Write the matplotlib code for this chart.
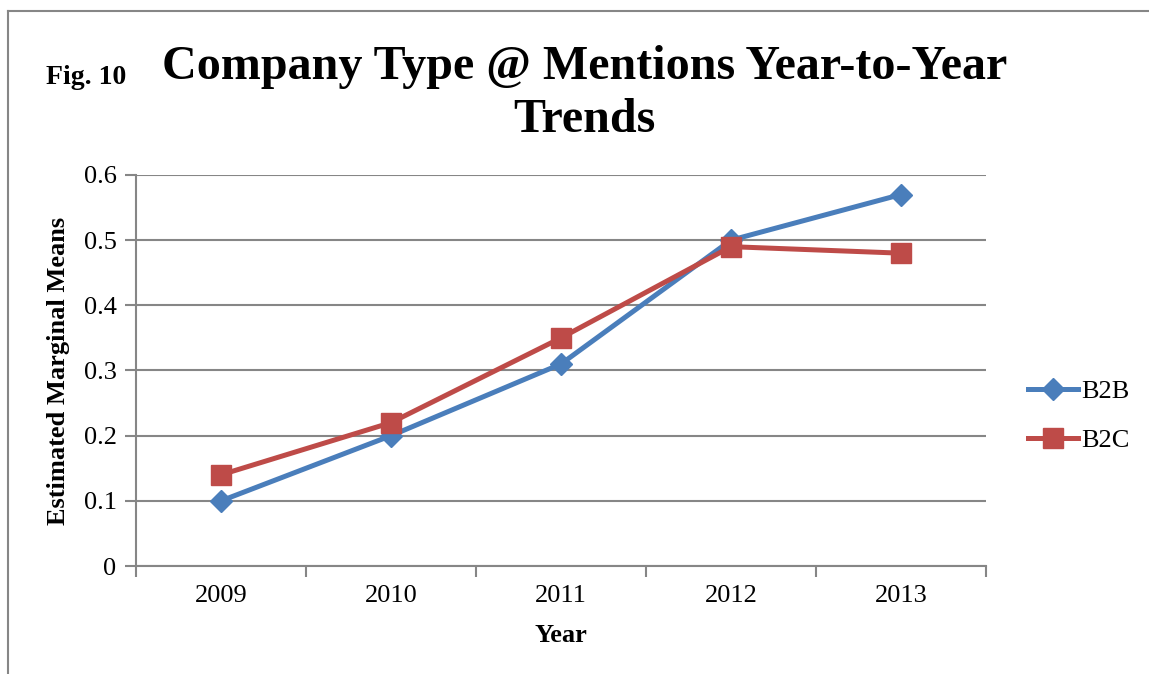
import matplotlib.pyplot as plt
from matplotlib.lines import Line2D

# Chart data
years = ["2009", "2010", "2011", "2012", "2013"]
b2b = [0.10, 0.20, 0.31, 0.50, 0.57]
b2c = [0.14, 0.22, 0.35, 0.49, 0.48]
y_ticks = [0, 0.1, 0.2, 0.3, 0.4, 0.5, 0.6]

blue = "#4A7EBB"
red = "#BE4B48"
grid_gray = "#868686"

plt.rcParams["font.family"] = ["Liberation Serif", "DejaVu Serif"]

fig = plt.figure(figsize=(11.49, 6.74), dpi=100)
ax = fig.add_axes([0.1184, 0.1602, 0.8581 - 0.1184, 0.7404 - 0.1602])

x = list(range(len(years)))

ax.plot(x, b2b, color=blue, linewidth=3.6, marker="D", markersize=11,
        label="B2B", zorder=3)
ax.plot(x, b2c, color=red, linewidth=3.6, marker="s", markersize=14,
        label="B2C", zorder=3)

# Axes styling
ax.set_xlim(-0.5, len(years) - 0.5)
ax.set_ylim(0, 0.6)
ax.set_yticks(y_ticks)
ax.set_yticklabels([f"{v:g}" for v in y_ticks], fontsize=19)
ax.set_xticks(x)
ax.set_xticklabels(years, fontsize=19)
ax.set_xticks([i - 0.5 for i in range(len(years) + 1)], minor=True)
ax.tick_params(axis="x", which="major", length=0, pad=14)
ax.tick_params(axis="x", which="minor", length=8, width=1.5, color=grid_gray)
ax.tick_params(axis="y", length=8, width=1.5, color=grid_gray, pad=6)

ax.grid(axis="y", color=grid_gray, linewidth=1.5)
ax.set_axisbelow(True)
for side in ["top", "right"]:
    ax.spines[side].set_visible(False)
for side in ["left", "bottom"]:
    ax.spines[side].set_color(grid_gray)
    ax.spines[side].set_linewidth(1.5)

ax.set_xlabel("Year", fontsize=19, fontweight="bold", labelpad=12)
ax.set_ylabel("Estimated Marginal Means", fontsize=19, fontweight="bold",
              labelpad=10)

# Titles
fig.text(0.509, 0.861, "Company Type @ Mentions Year-to-Year\nTrends",
         ha="center", va="center", fontsize=34.6, fontweight="bold",
         linespacing=1.27)
fig.text(0.04, 0.885, "Fig. 10", fontsize=20, fontweight="bold",
         ha="left", va="center")

ax.legend(loc="center left", bbox_to_anchor=(0.874, 0.383),
          bbox_transform=fig.transFigure, frameon=False, fontsize=19,
          handlelength=1.9, handletextpad=0.1, labelspacing=0.95)

# Outer frame (left and top edges visible)
fig.add_artist(Line2D([0.007, 0.007], [0.0, 0.984], color=grid_gray,
                      linewidth=1.5, transform=fig.transFigure))
fig.add_artist(Line2D([0.007, 1.0], [0.984, 0.984], color=grid_gray,
                      linewidth=1.5, transform=fig.transFigure))

fig.savefig("out.png", dpi=100)
